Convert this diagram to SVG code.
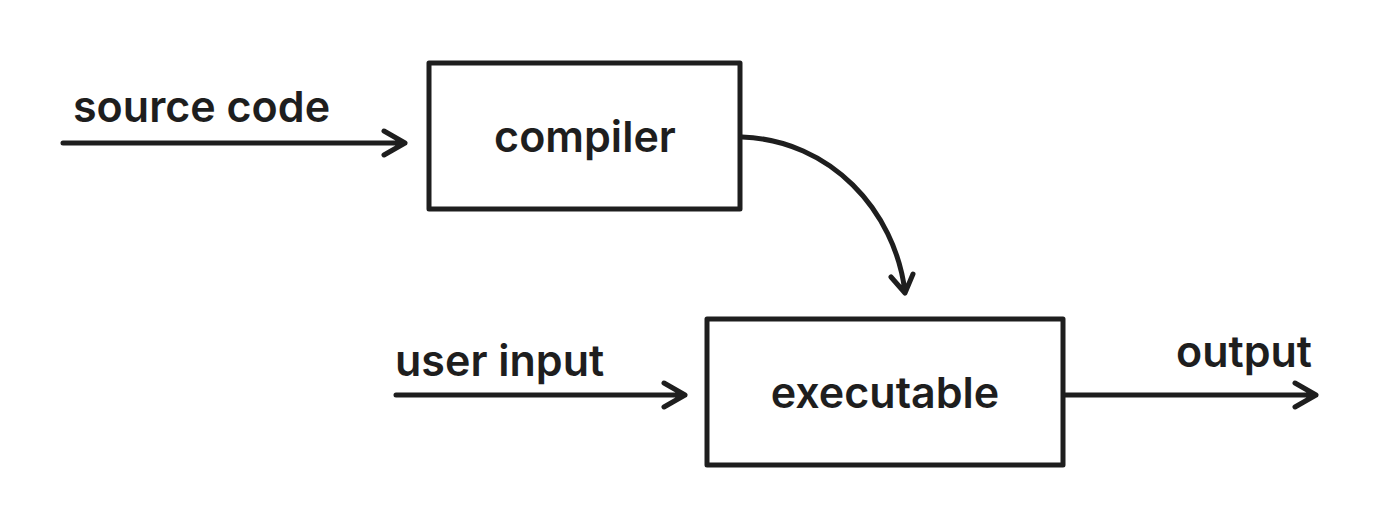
<svg xmlns="http://www.w3.org/2000/svg" width="1387" height="529" viewBox="0 0 1387 529">
<style>
.box{fill:#fff;stroke:#1e1e1e;stroke-width:5;stroke-linejoin:round}
.ln{fill:none;stroke:#1e1e1e;stroke-width:5;stroke-linecap:round;stroke-linejoin:round}
text{font-family:Inter,"Open Sans","Liberation Sans",sans-serif;font-weight:600;font-size:43px;fill:#1e1e1e}
</style>
<rect width="1387" height="529" fill="#fff"/>
<g id="connectors">
<path class="ln" d="M63,143 H405 M384,131 L405,143 L384,155"/>
<path class="ln" d="M396,395 H685 M664,383 L685,395 L664,407"/>
<path class="ln" d="M1065,395 H1316 M1295,383 L1316,395 L1295,407"/>
<path class="ln" d="M742,137 C830,140 895,210 905,292 M891,277 L905,293 L913,274"/>
</g>
<g id="compiler">
<rect class="box" x="429" y="63" width="311" height="146"/>
<text x="585" y="152" text-anchor="middle">compiler</text>
</g>
<g id="executable">
<rect class="box" x="707" y="319" width="356" height="146"/>
<text x="885" y="408" text-anchor="middle">executable</text>
</g>
<g id="labels">
<text x="73" y="122">source code</text>
<text x="395" y="376">user input</text>
<text x="1176" y="367">output</text>
</g>
</svg>
